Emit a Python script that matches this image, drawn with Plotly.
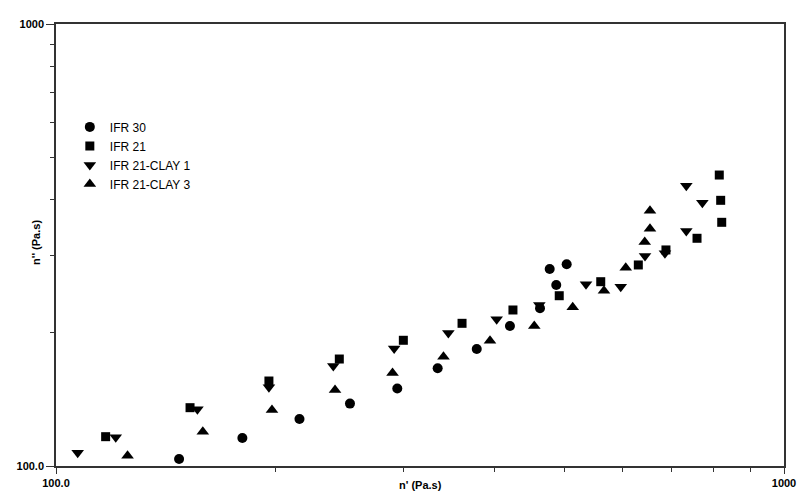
import plotly.graph_objects as go

# IFR 30 (circles)
ifr30_x = [147.6, 180.3, 216.0, 253.4, 294.3, 334.4, 378.4, 420.3, 462.2, 476.6, 486.6, 502.9]
ifr30_y = [103.7, 115.7, 127.7, 138.4, 149.7, 166.4, 183.9, 207.4, 227.4, 279.1, 256.8, 286.0]

# IFR 21 (squares)
ifr21_x = [117.0, 152.8, 196.1, 245.0, 300.0, 361.2, 424.3, 491.2, 560.1, 630.8, 688.4, 759.5, 814.9, 818.5, 821.2]
ifr21_y = [116.5, 135.5, 155.7, 174.6, 192.5, 210.3, 225.4, 242.8, 261.2, 285.0, 308.2, 327.5, 455.3, 399.1, 355.9]

# IFR 21-CLAY 1 (down triangles)
clay1_x = [107.1, 120.8, 156.4, 196.1, 240.4, 291.4, 345.9, 403.0, 461.2, 534.6, 596.7, 644.3, 686.2, 734.2, 734.2, 772.4]
clay1_y = [107.2, 116.1, 134.4, 150.7, 168.4, 184.5, 200.0, 214.8, 231.3, 257.7, 254.5, 298.7, 302.9, 340.1, 430.6, 394.2]

# IFR 21-CLAY 3 (up triangles)
clay3_x = [125.4, 159.1, 198.0, 241.7, 289.9, 340.6, 394.6, 453.9, 512.6, 565.9, 606.2, 643.7, 654.5, 654.5]
clay3_y = [105.5, 119.6, 133.9, 148.6, 162.3, 176.7, 192.1, 207.4, 228.6, 249.2, 281.0, 321.2, 344.2, 378.2]

major_vals = [100, 1000]
major_text = ["100.0", "1000"]
minor_vals = [200, 300, 400, 500, 600, 700, 800, 900]

FONT = "Liberation Sans, Arial, sans-serif"

fig = go.Figure()
series = [
    ("IFR 30", ifr30_x, ifr30_y, "circle", 10),
    ("IFR 21", ifr21_x, ifr21_y, "square", 9),
    ("IFR 21-CLAY 1", clay1_x, clay1_y, "triangle-down", 11),
    ("IFR 21-CLAY 3", clay3_x, clay3_y, "triangle-up", 11),
]
for name, xs, ys, sym, sz in series:
    fig.add_trace(go.Scatter(
        x=xs, y=ys, mode="markers", name=name,
        marker=dict(symbol=sym, size=sz, color="black", line=dict(width=0)),
    ))


def axis_style(ticklen):
    return dict(
        type="log",
        range=[2, 3],
        automargin=False,
        showgrid=False,
        zeroline=False,
        showline=True,
        linecolor="#333333",
        linewidth=1.5,
        mirror=True,
        ticks="outside",
        ticklen=ticklen,
        tickwidth=1,
        tickcolor="#333333",
        tickvals=major_vals,
        ticktext=major_text,
        tickfont=dict(family=FONT, size=11, color="black", weight="bold"),
        minor=dict(ticks="outside", ticklen=4, tickwidth=1, tickcolor="#333333", tickvals=minor_vals),
    )


fig.update_layout(
    width=798, height=491,
    margin=dict(l=56, r=14, t=24, b=25, autoexpand=False),
    paper_bgcolor="white",
    plot_bgcolor="white",
    font=dict(family=FONT, color="black"),
    xaxis=axis_style(6),
    yaxis=axis_style(8),
    showlegend=True,
    legend=dict(
        x=0.019, y=0.80, xanchor="left", yanchor="top",
        bgcolor="rgba(0,0,0,0)",
        font=dict(family=FONT, size=12, color="black"),
        tracegroupgap=0,
    ),
    annotations=[
        dict(text="n' (Pa.s)", xref="paper", yref="paper", x=0.5, y=-0.043,
             xanchor="center", yanchor="middle", showarrow=False,
             font=dict(family=FONT, size=11, color="black", weight="bold")),
        dict(text="n'' (Pa.s)", xref="paper", yref="paper", x=-0.0275, y=0.507,
             xanchor="center", yanchor="middle", showarrow=False, textangle=-90,
             font=dict(family=FONT, size=11, color="black", weight="bold")),
    ],
)

fig.write_html(
    "out.html",
    config={"displayModeBar": False},
    post_script="document.body.style.margin='0';document.body.style.overflow='hidden';",
)
